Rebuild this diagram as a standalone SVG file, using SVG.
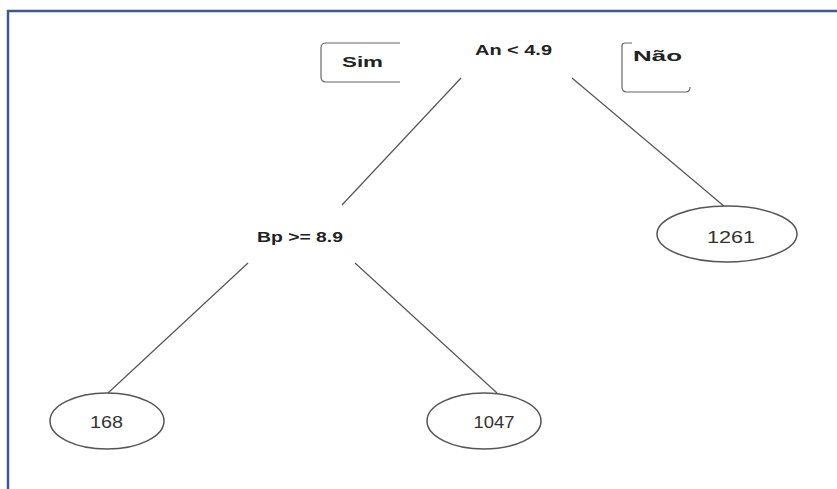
<svg xmlns="http://www.w3.org/2000/svg" width="837" height="489" viewBox="0 0 837 489">
<style>
.t{font-family:"Liberation Sans",Arial,sans-serif;font-size:15px;fill:#222;text-anchor:middle}
.b{font-weight:bold}
.n{font-size:16px;fill:#333}
.e{fill:#fff;stroke:#555;stroke-width:1.5}
.c{stroke:#555;stroke-width:1.2;fill:none}
.k{stroke:#666;stroke-width:1.2;fill:none}
</style>
<rect width="837" height="489" fill="#fff"/>
<path d="M8,489 V11 H837" fill="none" stroke="#3d5a8a" stroke-width="2.5"/>
<g id="connectors">
<line class="c" x1="461" y1="78" x2="342" y2="205"/>
<line class="c" x1="572" y1="78" x2="725" y2="207"/>
<line class="c" x1="248" y1="263" x2="108" y2="393"/>
<line class="c" x1="355" y1="263" x2="497" y2="393"/>
</g>
<g id="sim">
<path class="k" d="M400,43 H326 Q321,43 321,48 V77 Q321,82 326,82 H400"/>
<text class="t b" x="362.5" y="67" font-size="14" textLength="41" lengthAdjust="spacingAndGlyphs">Sim</text>
</g>
<g id="nao">
<path class="k" d="M632,43 H625 Q622,43 622,46 V87 Q622,92 627,92 H686 Q690,92 690,87"/>
<text class="t b" x="657.5" y="61" font-size="14" textLength="49" lengthAdjust="spacingAndGlyphs">Não</text>
</g>
<g id="n-an">
<text class="t b" x="513.5" y="55" textLength="77" lengthAdjust="spacingAndGlyphs">An &lt; 4.9</text>
</g>
<g id="n-bp">
<text class="t b" x="300" y="242" textLength="86" lengthAdjust="spacingAndGlyphs">Bp &gt;= 8.9</text>
</g>
<g id="n-1261">
<ellipse class="e" cx="727" cy="234" rx="70" ry="28"/>
<text class="t n" x="731" y="243" textLength="48" lengthAdjust="spacingAndGlyphs">1261</text>
</g>
<g id="n-168">
<ellipse class="e" cx="107" cy="421" rx="57" ry="28"/>
<text class="t n" x="106.5" y="428" textLength="33" lengthAdjust="spacingAndGlyphs">168</text>
</g>
<g id="n-1047">
<ellipse class="e" cx="484" cy="421" rx="57" ry="28"/>
<text class="t n" x="494" y="428" textLength="41" lengthAdjust="spacingAndGlyphs">1047</text>
</g>
</svg>
